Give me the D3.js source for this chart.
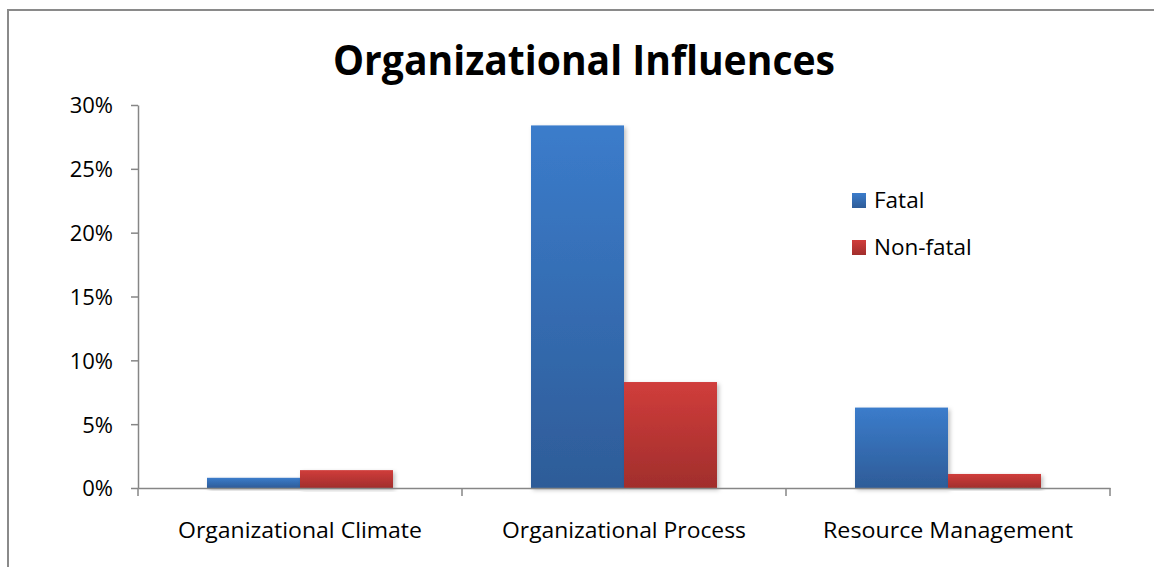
<!DOCTYPE html>
<html>
<head>
<meta charset="utf-8">
<script src="https://cdn.jsdelivr.net/npm/d3@7"></script>
<style>
  body { margin: 0; background: #fff; }
  svg { display: block; font-family: "Open Sans", "Noto Sans", sans-serif; }
</style>
</head>
<body>
<svg id="chart" width="1154" height="567"></svg>
<script>
// data
const categories = ["Organizational Climate", "Organizational Process", "Resource Management"];
const labelWidths = [244, 244, 250];
const seriesNames = ["Fatal", "Non-fatal"];
const fatal = [0.008, 0.284, 0.063];
const nonFatal = [0.014, 0.083, 0.011];
const yTicks = [0, 0.05, 0.10, 0.15, 0.20, 0.25, 0.30];

const svgWidth = 1154, svgHeight = 567;
const margin = {top: 105, right: 44, bottom: 79, left: 138};
const chartW = svgWidth - margin.left - margin.right;
const chartH = svgHeight - margin.top - margin.bottom;

const svg = d3.select("#chart");

// gradients + shadow
const defs = svg.append("defs");
const grads = [
  {id: "gBlue", top: "#3b7ccb", bottom: "#2e5c98"},
  {id: "gRed", top: "#d03d3b", bottom: "#a12e2c"}
];
grads.forEach(g => {
  const lg = defs.append("linearGradient").attr("id", g.id)
    .attr("x1", 0).attr("y1", 0).attr("x2", 0).attr("y2", 1);
  lg.append("stop").attr("offset", "0%").attr("stop-color", g.top);
  lg.append("stop").attr("offset", "100%").attr("stop-color", g.bottom);
});
const f = defs.append("filter").attr("id", "shadow")
  .attr("x", "-10%").attr("y", "-10%").attr("width", "130%").attr("height", "130%");
f.append("feDropShadow").attr("dx", 2).attr("dy", 2).attr("stdDeviation", 2)
  .attr("flood-color", "#000").attr("flood-opacity", 0.25);

// outer frame
svg.append("rect")
  .attr("x", 8).attr("y", 10)
  .attr("width", 1170).attr("height", 600)
  .attr("fill", "none").attr("stroke", "#8a8a8a").attr("stroke-width", 2);

// title
svg.append("text")
  .attr("x", 584).attr("y", 75)
  .attr("text-anchor", "middle")
  .attr("font-size", 42).attr("font-weight", "bold").attr("fill", "#000")
  .attr("textLength", 502).attr("lengthAdjust", "spacingAndGlyphs")
  .text("Organizational Influences");

const g = svg.append("g").attr("transform", `translate(${margin.left}, ${margin.top})`);

const x0 = d3.scaleBand().domain(categories).range([0, chartW]).padding(0);
const x1 = d3.scaleBand().domain(seriesNames).range([0, x0.bandwidth()])
  .paddingInner(0).paddingOuter(0.742);
const y = d3.scaleLinear().domain([0, 0.3]).range([chartH, 0]);

const fills = {"Fatal": "url(#gBlue)", "Non-fatal": "url(#gRed)"};

// bars
const rows = categories.map((c, i) => ({cat: c, vals: [
  {name: "Fatal", v: fatal[i]}, {name: "Non-fatal", v: nonFatal[i]}
]}));

g.selectAll(".grp")
  .data(rows)
  .enter()
  .append("g")
  .attr("transform", d => `translate(${x0(d.cat)}, 0)`)
  .selectAll("rect")
  .data(d => d.vals)
  .enter()
  .append("rect")
  .attr("x", d => x1(d.name))
  .attr("y", d => y(d.v))
  .attr("width", x1.bandwidth())
  .attr("height", d => chartH - y(d.v))
  .attr("fill", d => fills[d.name])
  .attr("filter", "url(#shadow)");

// y axis
const yAxis = g.append("g")
  .call(d3.axisLeft(y).tickValues(yTicks).tickFormat(d3.format(".0%")).tickSize(7).tickSizeOuter(0).tickPadding(18));
yAxis.select(".domain").attr("stroke", "#868686").attr("stroke-width", 1.5);
yAxis.selectAll(".tick line").attr("stroke", "#868686").attr("stroke-width", 1.5);
yAxis.selectAll(".tick text").attr("font-size", 22).attr("fill", "#000")
  .attr("font-family", "'Open Sans', sans-serif")
  .attr("dy", "0.36em");

// x axis
const xAxis = g.append("g")
  .attr("transform", `translate(0, ${chartH})`)
  .call(d3.axisBottom(x0).tickSize(0).tickSizeOuter(0).tickPadding(34));
xAxis.select(".domain").attr("stroke", "#868686").attr("stroke-width", 1.5);
xAxis.selectAll(".tick text").attr("font-size", 22).attr("fill", "#000")
  .attr("font-family", "'Open Sans', sans-serif")
  .attr("textLength", (d, i) => labelWidths[i])
  .attr("lengthAdjust", "spacingAndGlyphs");

// category boundary ticks
const bounds = categories.map(c => x0(c)).concat([chartW]);
g.append("g")
  .selectAll("line")
  .data(bounds)
  .enter()
  .append("line")
  .attr("x1", d => d).attr("x2", d => d)
  .attr("y1", chartH).attr("y2", chartH + 8)
  .attr("stroke", "#868686").attr("stroke-width", 1.5);

// legend
const legend = svg.append("g").attr("transform", "translate(852, 193)");
legend.selectAll("rect")
  .data(seriesNames)
  .enter()
  .append("rect")
  .attr("x", 0)
  .attr("y", (_, i) => i * 47)
  .attr("width", 14).attr("height", 15)
  .attr("fill", d => fills[d]);
legend.selectAll("text")
  .data(seriesNames)
  .enter()
  .append("text")
  .attr("x", 22)
  .attr("y", (_, i) => i * 47 + 15)
  .attr("font-size", 22.5)
  .attr("fill", "#000")
  .text(d => d);
</script>
</body>
</html>
